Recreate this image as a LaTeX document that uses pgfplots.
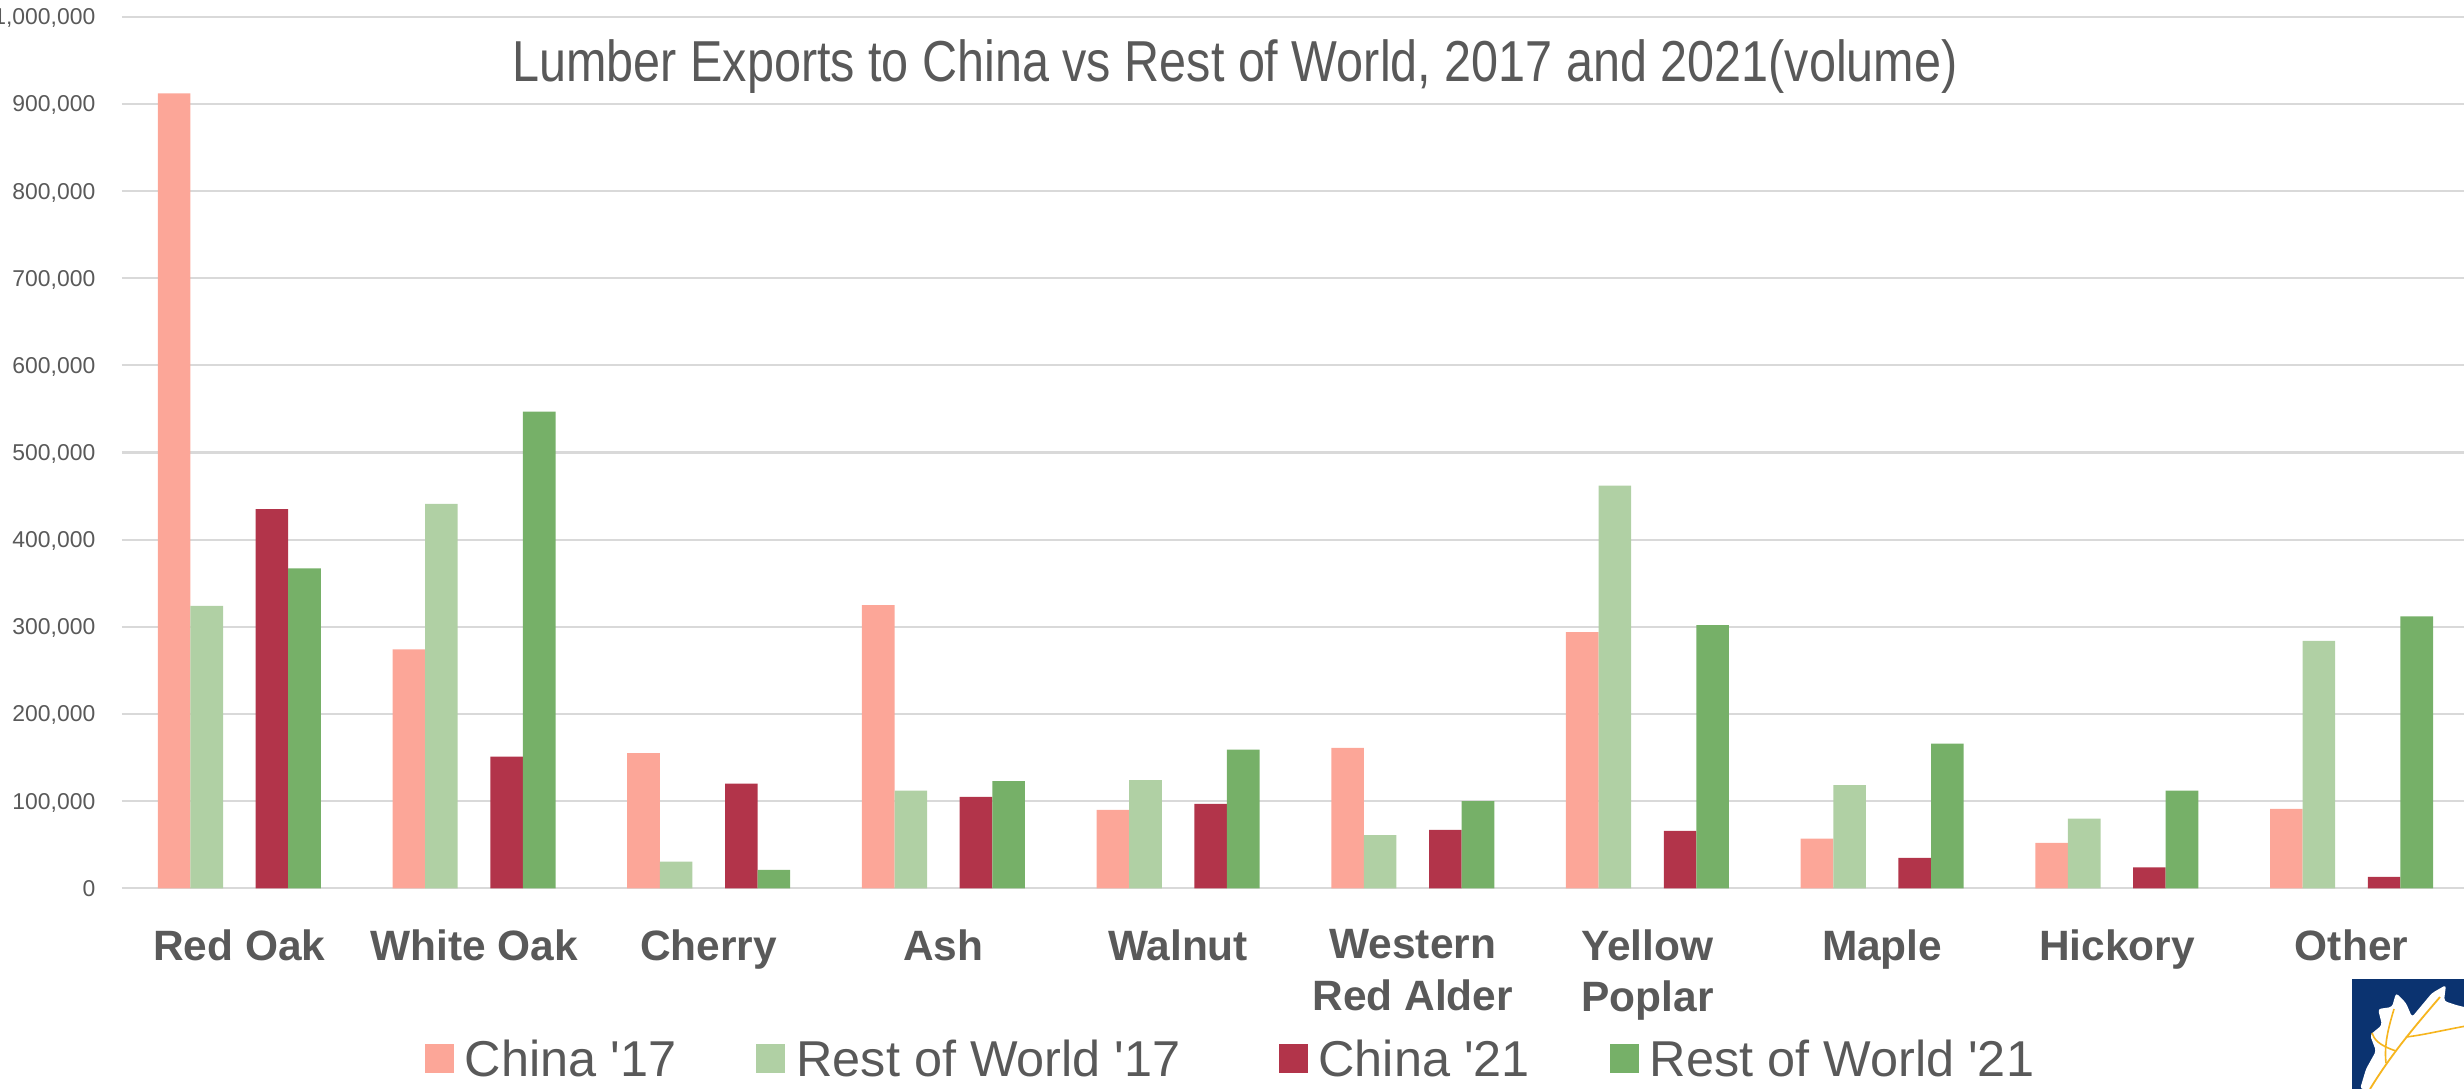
\documentclass[border=0pt]{standalone}
\usepackage{pgfplots}
\pgfplotsset{compat=1.18}
\usepackage{fontspec}
\setmainfont{Liberation Sans}
\newfontfamily\titlefont[FakeStretch=0.84]{Liberation Sans}

\definecolor{chinaA}{HTML}{FCA698}
\definecolor{restA}{HTML}{B0D0A4}
\definecolor{chinaB}{HTML}{B2344A}
\definecolor{restB}{HTML}{76B068}
\definecolor{gridgray}{HTML}{D9D9D9}
\definecolor{txtgray}{HTML}{595959}
\definecolor{logonavy}{HTML}{0B3370}
\definecolor{logogold}{HTML}{F6B51E}

\pgfplotsset{
  sq/.style={legend image code/.code={\fill[##1] (0bp,-6.6bp) rectangle (14.5bp,8bp);}},
}

\begin{document}
\begin{tikzpicture}
\begin{axis}[
  at={(61bp,100.35bp)}, anchor=south west,
  scale only axis, width=1173.5bp, height=435.8bp,
  xmin=-0.5, xmax=9.5, ymin=0, ymax=1000000,
  axis line style={draw=none},
  tick style={draw=none},
  ymajorgrids,
  major grid style={gridgray, line width=1.1bp},
  xtick={0,1,2,3,4,5,6,7,8,9},
  xticklabels={Red Oak, White Oak, Cherry, Ash, Walnut, Western\\Red Alder, Yellow\\Poplar, Maple, Hickory, Other},
  xticklabel style={font=\bfseries\fontsize{21.3}{25.85}\selectfont, text=txtgray,
    align=center, anchor=north, inner sep=0pt, yshift=-20.5bp},
  ytick={0,100000,200000,300000,400000,500000,600000,700000,800000,900000,1000000},
  scaled y ticks=false,
  yticklabel={\pgfmathprintnumber[fixed, precision=0, 1000 sep={,}, assume math mode=true]{\tick}},
  yticklabel style={font=\fontsize{11.5}{13}\selectfont, text=txtgray,
    anchor=east, inner sep=0pt, text depth=0pt, xshift=-13.15bp},
  legend columns=4,
  legend style={at={(0.1291,-0.2199)}, anchor=south west, draw=none, fill=none,
    inner sep=0pt, outer sep=0pt,
    font=\fontsize{25.3}{30}\selectfont, text=txtgray,
    nodes={inner sep=0pt},
    /tikz/every odd column/.append style={column sep=5.5bp},
    /tikz/every even column/.append style={column sep=40bp}},
]
% China 2017
\addplot[ybar, bar width=16.3bp, bar shift=-32.6bp, fill=chinaA, draw=none, sq] coordinates {
  (0,912000) (1,274000) (2,155000) (3,325000) (4,90000)
  (5,161000) (6,294000) (7,57000) (8,52000) (9,91000)};
% Rest of World 2017
\addplot[ybar, bar width=16.3bp, bar shift=-16.3bp, fill=restA, draw=none, sq] coordinates {
  (0,324000) (1,441000) (2,30500) (3,112000) (4,124000)
  (5,61000) (6,462000) (7,118500) (8,80000) (9,284000)};
% China 2021
\addplot[ybar, bar width=16.3bp, bar shift=16.3bp, fill=chinaB, draw=none, sq] coordinates {
  (0,435000) (1,151000) (2,120000) (3,105000) (4,97000)
  (5,67000) (6,66000) (7,35000) (8,24000) (9,13000)};
% Rest of World 2021
\addplot[ybar, bar width=16.3bp, bar shift=32.6bp, fill=restB, draw=none, sq] coordinates {
  (0,367000) (1,547000) (2,21000) (3,123000) (4,159000)
  (5,100000) (6,302000) (7,166000) (8,112000) (9,312000)};
\legend{China \textquotesingle17, Rest of World \textquotesingle17\rule{9bp}{0pt}, China \textquotesingle21, Rest of World \textquotesingle21}
\end{axis}

\node[anchor=base, inner sep=0pt, text=txtgray, font=\titlefont\fontsize{29}{32}\selectfont]
  at (617.5bp,503.65bp) {Lumber Exports to China vs Rest of World, 2017 and 2021(volume)};

% logo in the lower right corner
\begin{scope}[shift={(1176bp,0bp)}, x=1bp, y=1bp]
  \fill[logonavy] (0,0) rectangle (60,55);
  \fill[white, rounded corners=1.5bp] (4,0) -- (7,10) -- (12,19) -- (9,27) -- (15,32) -- (13,40)
    -- (20,41) -- (22,48) -- (27,43) -- (30,36) -- (35,42) -- (40,48) -- (47,52) -- (46,44)
    -- (52,42) -- (60,40) -- (60,0) -- cycle;
  \draw[logogold, line width=0.9bp] (9,0) .. controls (20,18) and (32,32) .. (44,46);
  \draw[logogold, line width=0.8bp] (17,13) .. controls (16,22) and (18,30) .. (21,40);
  \draw[logogold, line width=0.8bp] (27,26) .. controls (36,27) and (48,30) .. (60,32);
  \draw[logogold, line width=0.8bp] (22,19) .. controls (13,22) and (11,25) .. (10,28);
\end{scope}

\pgfresetboundingbox
\useasboundingbox (0,0) rectangle (1232bp,544.5bp);
\end{tikzpicture}
\end{document}
